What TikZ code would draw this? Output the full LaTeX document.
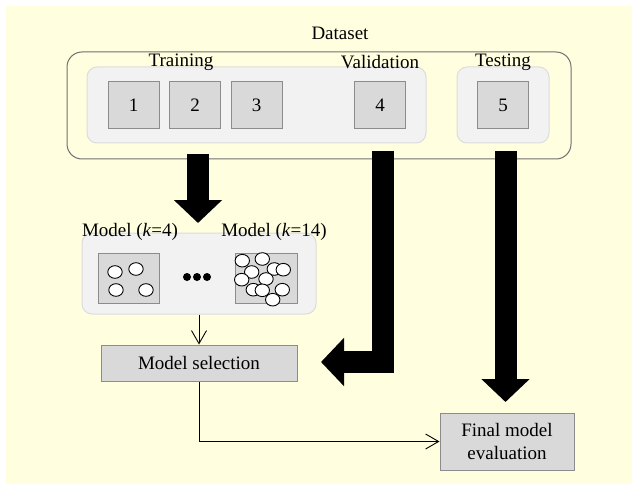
\documentclass[tikz,border=0pt]{standalone}
\usepackage{fontspec}
\setmainfont{Liberation Serif}
\usetikzlibrary{arrows.meta}
\definecolor{bgyellow}{HTML}{FFFFE0}
\definecolor{boxfill}{HTML}{D9D9D9}
\definecolor{boxline}{HTML}{8C8C8C}
\definecolor{grpfill}{HTML}{F2F2F2}
\definecolor{grpline}{HTML}{DCDCDC}
\definecolor{outerline}{HTML}{707070}
\tikzset{
  databox/.style={draw=boxline, fill=boxfill, line width=1pt, minimum width=51pt, minimum height=47pt, inner sep=0pt},
  grp/.style={draw=grpline, fill=grpfill, line width=1pt, rounded corners=10pt, inner sep=0pt},
  lbl/.style={inner sep=0pt},
  ballstyle/.style={draw=black, fill=white, line width=0.9pt},
  bigarrow/.style={line width=22pt, line join=miter, -{Triangle[length=23pt,width=47pt]}},
  thinarrow/.style={line width=0.9pt, -{Straight Barb[length=13pt,width=15pt]}},
}
\begin{document}
\begin{tikzpicture}[x=1pt,y=-1pt,font=\fontsize{19}{22}\selectfont]
\useasboundingbox (0,0) rectangle (632,484);
\fill[bgyellow] (6,6) rectangle (632,484);

% Dataset
\node[draw=outerline, line width=1pt, rounded corners=15pt, minimum width=504pt, minimum height=107pt, inner sep=0pt] (ds) at (319,105.5) {};
\node[lbl] (dslbl) at (340,33) {Dataset};
\node[grp, minimum width=339pt, minimum height=76pt] (trval) at (256.5,105) {};
\node[grp, minimum width=92pt, minimum height=76pt] (test) at (503,105) {};
\node[lbl] (trlbl) at (181,62) {Training};
\node[lbl] (vallbl) at (380,62) {Validation};
\node[lbl] (testlbl) at (503,62) {Testing};
\node[databox] (b1) at (133.5,105.5) {1};
\node[databox] (b2) at (195,105.5) {2};
\node[databox] (b3) at (256.5,105.5) {3};
\node[databox] (b4) at (380,105) {4};
\node[databox] (b5) at (503,105) {5};

% Models
\node[grp, minimum width=234pt, minimum height=81pt] (mg) at (199,273.5) {};
\node[lbl] (m4lbl) at (130,232) {Model (\textit{k}=4)};
\node[lbl] (m14lbl) at (274,232) {Model (\textit{k}=14)};
\node[databox, minimum width=61pt, minimum height=50pt] (m4) at (128.5,278) {};
\node[databox, minimum width=62pt, minimum height=50pt] (m14) at (266,278) {};
\foreach \p in {(115,272),(136,269),(116,290),(146,290)}
  \draw[ballstyle] \p ellipse [x radius=7.2, y radius=6.3];
\foreach \p in {(242.3,260.7),(262.3,259),(251.7,272),(274.3,269),(283.3,269.7),(241.7,279.7),(266,279),(253.3,289.7),(262.3,290.3),(282.3,289.7),(272.7,299.7)}
  \draw[ballstyle] \p ellipse [x radius=7.2, y radius=6.3];
\foreach \x in {187,197,207}
  \fill[black] (\x,277) circle [radius=4];

% Selection and evaluation
\node[draw=boxline, fill=boxfill, line width=1pt, minimum width=196pt, minimum height=36pt, inner sep=0pt] (ms) at (199,363) {Model selection};
\node[draw=boxline, fill=boxfill, line width=1pt, minimum width=134pt, minimum height=57pt, inner sep=0pt, align=center, font=\fontsize{19}{23}\selectfont] (fe) at (507,441.5) {Final model\\evaluation};

% Connectors
\coordinate (trs) at (198,154);
\coordinate (tre) at (198,223);
\coordinate (vas) at (383,151);
\coordinate (vac) at (383,362);
\coordinate (vae) at (321,362);
\coordinate (tes) at (505.5,151);
\coordinate (tee) at (505.5,402);
\draw[bigarrow] (trs) -- (tre);
\draw[bigarrow] (vas) -- (vac) -- (vae);
\draw[bigarrow] (tes) -- (tee);
\draw[thinarrow] (mg.south) -- (ms.north);
\draw[thinarrow] (ms.south) |- (fe.west);
\end{tikzpicture}
\end{document}
